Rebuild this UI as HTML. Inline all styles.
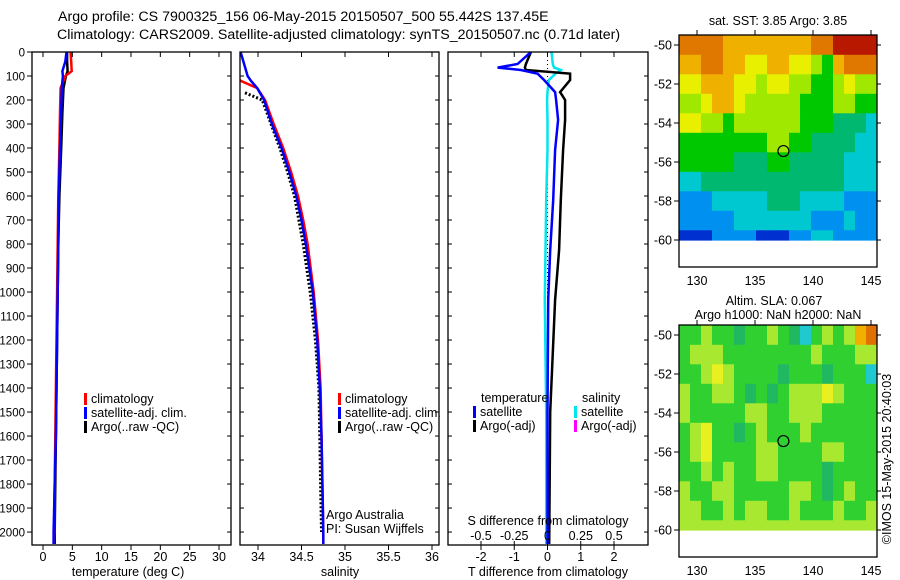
<!DOCTYPE html>
<html><head><meta charset="utf-8"><style>
html,body{margin:0;padding:0;background:#fff}
svg{display:block;font-family:"Liberation Sans",sans-serif}
</style></head><body>
<svg id="fig" width="900" height="580" viewBox="0 0 900 580" xmlns="http://www.w3.org/2000/svg">
<text x="58" y="21" font-size="14.2">Argo profile: CS 7900325_156 06-May-2015 20150507_500 55.442S 137.45E</text>
<text x="57" y="39" font-size="14.2">Climatology: CARS2009. Satellite-adjusted climatology: synTS_20150507.nc (0.71d later)</text>
<g id="g"></g>
</svg>
<script>
// ---- data ----
var depthTicks=[0,100,200,300,400,500,600,700,800,900,1000,1100,1200,1300,1400,1500,1600,1700,1800,1900,2000];
var tempTicks=[0,5,10,15,20,25,30];
var salTicks=[34,34.5,35,35.5,36];
var salTickLabels=["34","34.5","35","35.5","36"];
var tdiffTicks=[-2,-1,0,1,2];
var sdiffTicks=[-0.5,-0.25,0,0.25,0.5];
var sdiffTickLabels=["-0.5","-0.25","0","0.25","0.5"];

var tDepth=[0,40,80,100,150,250,400,600,800,1000,1200,1400,1600,1800,2000,2050];
var tClim=[4.7,4.8,4.9,3.8,3.0,2.9,2.8,2.6,2.5,2.4,2.3,2.2,2.1,2.0,1.9,1.8];
var tSat=[4.0,3.8,3.3,3.4,3.2,3.1,2.9,2.7,2.6,2.5,2.4,2.3,2.2,2.0,1.8,1.8];
var tArgo=[4.1,4.1,4.2,3.9,3.5,3.3,3.1,2.8,2.6,2.5,2.4,2.3,2.2,2.1,2.0,2.0];

var sDepth=[0,100,120,150,200,300,400,500,600,700,800,1000,1200,1400,1600,1800,2000,2050];
var sClim=[33.6,33.75,33.8,33.99,34.08,34.18,34.29,34.38,34.46,34.52,34.57,34.64,34.69,34.72,34.73,34.74,34.75,34.75];
var sSat=[33.8,33.88,33.92,33.99,34.07,34.16,34.27,34.36,34.44,34.5,34.55,34.63,34.68,34.71,34.73,34.74,34.75,34.75];
var sArgoDepth=[170,200,250,300,400,500,600,800,1000,1200,1400,1600,1800,2000];
var sArgo=[33.85,34.05,34.1,34.15,34.25,34.34,34.42,34.52,34.6,34.66,34.7,34.71,34.72,34.73];

var dDepth=[0,50,65,75,90,117,167,200,283,408,617,825,1033,1500,2050];
var dTsat=[-0.5,-0.9,-1.5,-0.8,-0.3,-0.1,0.23,0.26,0.32,0.23,0.17,0.08,0.02,0.0,0.0];
var dTargo=[-0.5,-0.65,-0.68,-0.65,0.68,0.68,0.38,0.53,0.53,0.47,0.4,0.35,0.23,0.08,0.05];
var dSsat=[0.03,0.04,0.05,0.1,0.06,0.01,0.0,-0.003,0.0,0.0,-0.01,-0.015,-0.02,-0.01,-0.01];

var mapLonTicks=[130,135,140,145];
var mapLatTicks=[-50,-52,-54,-56,-58,-60];
var gridLon0=128.45, gridDLon=0.948;
var gridLatEdges=[-49.5,-50.5,-51.5,-52.5,-53.5,-54.5,-55.5,-56.5,-57.5,-58.5,-59.5,-60];
var sstGrid=[
[9,9,9,9,8,8,8,8,8,8,8,8,9,9,10,10,10,10],
[8,8,9,9,8,8,7,7,8,8,7,7,6,5,8,9,9,9],
[7,7,8,8,8,7,7,6,7,7,6,6,5,5,6,7,6,6],
[6,6,7,8,8,7,6,6,6,6,6,5,5,5,6,6,5,5],
[7,7,6,6,5,6,6,6,6,6,6,5,5,5,4,4,4,3],
[5,5,5,5,5,5,5,5,6,6,5,5,4,4,4,4,3,3],
[5,5,5,5,5,4,4,4,5,5,4,4,4,4,4,3,3,3],
[3,3,4,4,4,4,4,4,4,4,4,4,4,4,4,3,3,3],
[2,2,2,3,3,3,3,3,4,4,4,3,3,3,3,2,2,2],
[2,2,2,2,2,3,3,3,3,3,3,3,2,2,2,3,2,2],
[1,1,1,2,2,2,2,1,1,1,2,2,3,3,2,2,2,2]];
var slaGrid=[
[5,5,6,5,5,4,5,5,6,5,4,3,5,6,5,6,8,9],
[5,6,6,6,5,5,5,5,5,5,5,5,6,5,5,5,6,6],
[5,5,6,7,6,5,5,5,5,4,5,5,5,4,5,5,5,3],
[6,5,5,6,6,5,4,5,4,5,6,6,6,7,6,5,5,5],
[6,5,5,5,5,5,6,6,5,5,6,6,6,5,5,5,5,5],
[5,6,7,5,5,4,5,6,5,5,5,6,5,5,5,5,5,5],
[5,6,7,5,5,5,5,6,6,5,5,5,5,6,6,5,5,5],
[5,5,6,5,6,5,5,6,6,5,5,5,5,4,5,5,5,5],
[6,5,5,6,6,5,5,5,5,5,6,6,5,4,5,6,5,5],
[6,6,5,5,6,5,6,6,5,5,6,5,5,5,6,5,5,6],
[6,6,6,6,6,6,6,6,6,6,6,6,6,6,6,6,6,6]];
var argoLon=137.45, argoLat=-55.44;

// ---- helpers ----
var NS="http://www.w3.org/2000/svg", G=document.getElementById('g'), G_save=G;
function mk(t,a,p){var e=document.createElementNS(NS,t);for(var k in a)e.setAttribute(k,a[k]);(p||G).appendChild(e);return e;}
function txt(s,x,y,anchor,name,size){var e=mk('text',{x:x,y:y,'text-anchor':anchor||'start','font-size':size||12});e.textContent=s;


return e;}
var Y0=52,Y1=545;
function yD(d){return Y0+(d/2054)*(Y1-Y0);}
function lin(d0,d1,r0,r1){return function(v){return r0+(v-d0)/(d1-d0)*(r1-r0);};}
var xT=lin(0,30,43,219), xS=lin(34,36,258,432), xTd=lin(-2,2,481,614), xSd=lin(-0.5,0.5,481,614);

function frame(x0,x1,name){var r=mk('rect',{x:x0,y:Y0,width:x1-x0,height:Y1-Y0,fill:'none',stroke:'#000','stroke-width':1.3});

}
function yticks(x0,x1,labels){depthTicks.forEach(function(d){var y=yD(d);
mk('line',{x1:labels?x0-5:x0,y1:y,x2:x0+(labels?0:4),y2:y,stroke:'#000'});
mk('line',{x1:x1-4,y1:y,x2:x1,y2:y,stroke:'#000'});
if(labels)txt(String(d),x0-7,y+4.5,'end','depth-tick-label',11.5);});}
function xticks(vals,labs,fx,y,name){vals.forEach(function(v,i){var x=fx(v);
mk('line',{x1:x,y1:Y1,x2:x,y2:Y1+5,stroke:'#000'});mk('line',{x1:x,y1:Y0,x2:x,y2:Y0+5,stroke:'#000'});
txt(labs?labs[i]:String(v),x,y,'middle',name,12.5);});}
function line(fx,vals,depths,color,w,name,dash){var p=vals.map(function(v,i){return fx(v).toFixed(1)+','+yD(depths[i]).toFixed(1);}).join(' ');
var a={points:p,fill:'none',stroke:color,'stroke-width':w};if(dash)a['stroke-dasharray']=dash;
var e=mk('polyline',a);

}
function legend(x,y,color,label){mk('rect',{x:x,y:y-10,width:3,height:12,fill:color});txt(label,x+7,y,'start','legend-entry',12.5);}

var defs=mk('defs',{});
[[32,231,'c1'],[240,439,'c2'],[448,648,'c3']].forEach(function(c){var cp=mk('clipPath',{id:c[2]},defs);mk('rect',{x:c[0],y:Y0,width:c[1]-c[0],height:Y1-Y0},cp);});
var cpm1=mk('clipPath',{id:'m1'},defs);mk('rect',{x:679,y:35,width:198,height:232},cpm1);
var cpm2=mk('clipPath',{id:'m2'},defs);mk('rect',{x:679,y:325,width:198,height:232},cpm2);

// panel 1
var p1=mk('g',{'clip-path':'url(#c1)'});
G=p1;
line(xT,tArgo,tDepth,'#000',2.5,'temp-argo-line');
line(xT,tClim,tDepth,'#f00',2.5,'temp-climatology-line');
line(xT,tSat,tDepth,'#00f',2.5,'temp-satellite-line');
G=G_save;
frame(32,231,'temperature-panel');yticks(32,231,true);
xticks(tempTicks,null,xT,561,'temp-tick-label');
txt('temperature (deg C)',128,576,'middle','temp-axis-title',12.5);
legend(84,403,'#f00','climatology');legend(84,417,'#00f','satellite-adj. clim.');legend(84,431,'#000','Argo(..raw -QC)');

// panel 2
var p2=mk('g',{'clip-path':'url(#c2)'});G=p2;
line(xS,sArgo,sArgoDepth,'#000',3,'sal-argo-line','2,2');
line(xS,sClim,sDepth,'#f00',2.5,'sal-climatology-line');
line(xS,sSat,sDepth,'#00f',2.5,'sal-satellite-line');
G=G_save;
frame(240,439,'salinity-panel');yticks(240,439,false);
xticks(salTicks,salTickLabels,xS,561,'sal-tick-label');
txt('salinity',340,576,'middle','sal-axis-title',12.5);
legend(338,403,'#f00','climatology');legend(338,417,'#00f','satellite-adj. clim.');legend(338,431,'#000','Argo(..raw -QC)');
txt('Argo Australia',326,519,'start','argo-australia-label',12.5);
txt('PI: Susan Wijffels',326,533,'start','pi-label',12.5);

// panel 3
var p3=mk('g',{'clip-path':'url(#c3)'});G=p3;
mk('line',{x1:xTd(0),y1:Y0,x2:xTd(0),y2:Y1,stroke:'#000','stroke-dasharray':'1,3'});
line(xSd,dSsat,dDepth,'#00e5ee',2.5,'sdiff-satellite-line');
line(xTd,dTargo,dDepth,'#000',2.5,'tdiff-argo-line');
line(xTd,dTsat,dDepth,'#00f',2.5,'tdiff-satellite-line');
G=G_save;
frame(448,648,'difference-panel');yticks(448,648,false);
xticks(tdiffTicks,null,xTd,561,'tdiff-tick-label');
sdiffTicks.forEach(function(v,i){var x=xSd(v);mk('line',{x1:x,y1:Y1,x2:x,y2:Y1-4,stroke:'#000'});txt(sdiffTickLabels[i],x,540,'middle','sdiff-tick-label',12.5);});
txt('S difference from climatology',548,525,'middle','sdiff-axis-title',12.5);
txt('T difference from climatology',548,576,'middle','tdiff-axis-title',12.5);
txt('temperature',481,402,'start','legend-title-temperature',12.5);
txt('salinity',582,402,'start','legend-title-salinity',12.5);
legend(473,416,'#00f','satellite');legend(473,430,'#000','Argo(-adj)');
legend(574,416,'#00e5ee','satellite');legend(574,430,'#f0f','Argo(-adj)');

// maps
var cmap=['#0000a0','#0030d0','#0090f0','#00c8d0','#00b870','#00c800','#a0e800','#e8f000','#f0b000','#e07800','#b81800'];
var cmapSLA=['#0000a0','#0030d0','#0090f0','#20c8d0','#20b860','#30d030','#a8e830','#e8f020','#f0b000','#e07000','#b81800'];
function drawMap(top,bottom,grid,cols,name,clip){
 var xL=lin(130,145,697,871), yL=lin(-50,-60,top+10,top+205);
 var g=mk('g',{'clip-path':'url(#'+clip+')'});
 
 
 grid.forEach(function(row,r){row.forEach(function(v,c){
  var x0=xL(gridLon0+c*gridDLon),x1=xL(gridLon0+(c+1)*gridDLon),y0=yL(gridLatEdges[r]),y1=yL(gridLatEdges[r+1]);
  var cell=mk('rect',{x:x0.toFixed(1),y:y0.toFixed(1),width:(x1-x0+0.6).toFixed(1),height:(y1-y0+0.6).toFixed(1),fill:cols[v]},g);
  
  
 });});
 mk('rect',{x:679,y:top,width:198,height:bottom-top,fill:'none',stroke:'#000','stroke-width':1.3});
 mapLonTicks.forEach(function(v){var x=xL(v);mk('line',{x1:x,y1:top,x2:x,y2:top-5,stroke:'#000'});txt(String(v),x,bottom+18,'middle','map-lon-tick-label',12.5);});
 mapLatTicks.forEach(function(v){var y=yL(v);mk('line',{x1:674,y1:y,x2:679,y2:y,stroke:'#000'});mk('line',{x1:877,y1:y,x2:881,y2:y,stroke:'#000'});txt(String(v),672,y+4.5,'end','map-lat-tick-label',12.5);});
 var c=mk('circle',{cx:xL(argoLon),cy:yL(argoLat),r:5.5,fill:'none',stroke:'#000','stroke-width':1.2});
 
 
}
drawMap(35,267,sstGrid,cmap,'sst-map','m1');
txt('sat. SST: 3.85 Argo: 3.85',778,25,'middle','sst-map-title',12.5);
drawMap(325,557,slaGrid,cmapSLA,'sla-map','m2');
txt('Altim. SLA: 0.067',774,305,'middle','sla-map-title',12.5);
txt('Argo h1000: NaN h2000: NaN',778,319,'middle','sla-map-subtitle',12.5);
var cr=txt('©IMOS 15-May-2015 20:40:03',0,0,'middle','imos-credit',12.5);
cr.setAttribute('transform','translate(891,459) rotate(-90)');
</script>
</body></html>
